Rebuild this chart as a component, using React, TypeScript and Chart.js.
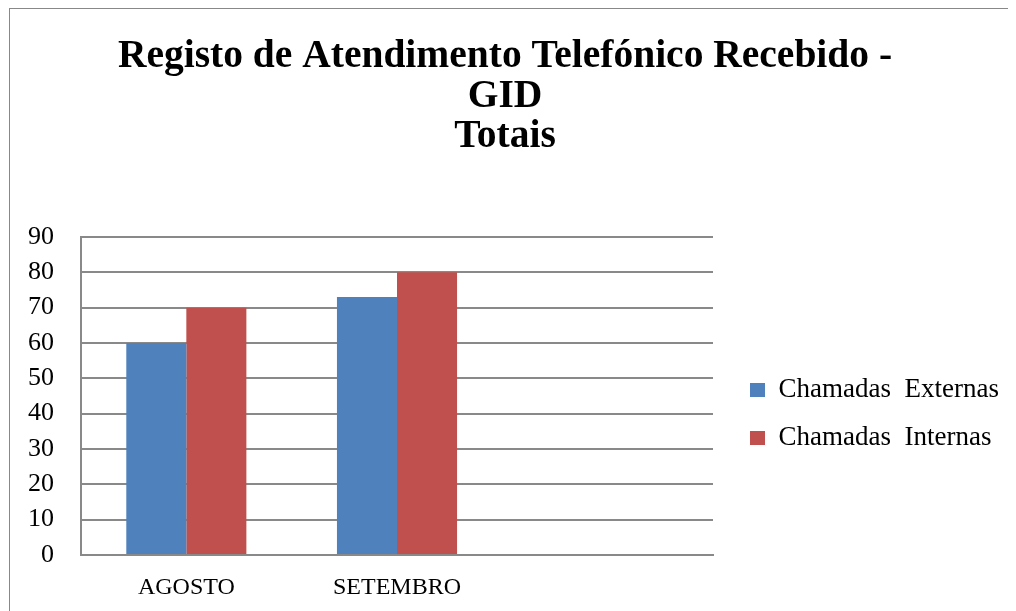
import React, { useEffect, useRef } from "react";
import { Chart, registerables } from "chart.js";

Chart.register(...registerables);

const categories = ["AGOSTO", "SETEMBRO", ""];
const externas = [60, 73, null];
const internas = [70, 80, null];
const seriesNames = ["Chamadas  Externas", "Chamadas  Internas"];
const titleLines = ["Registo de Atendimento Telefónico Recebido -", "GID", "Totais"];

const FONT = "'Liberation Serif', 'Times New Roman', serif";
const GRID = "#898989";
const CANVAS_W = 1006;
const CANVAS_H = 603;
const LEGEND_FONT = 27;
const LEGEND_PAD = 21;
const LEGEND_BOX = 15;
const LEGEND_LEFT = 719;

export default function App() {
  const ref = useRef<HTMLCanvasElement | null>(null);

  useEffect(() => {
    document.body.style.overflow = "hidden";
    if (!ref.current) return;
    const mctx = ref.current.getContext("2d")!;
    mctx.font = `${LEGEND_FONT}px ${FONT}`;
    const textW = Math.max(...seriesNames.map((n) => mctx.measureText(n).width));
    const legendW = Math.ceil(LEGEND_PAD + LEGEND_BOX + LEGEND_FONT / 2 + textW + 1);
    const padRight = Math.max(0, CANVAS_W - LEGEND_LEFT - legendW);

    const chart = new Chart(ref.current, {
      type: "bar",
      data: {
        labels: categories,
        datasets: [
          {
            label: seriesNames[0],
            data: externas,
            backgroundColor: "#4F81BD",
            borderWidth: 0,
            yAxisID: "y",
          },
          {
            label: seriesNames[1],
            data: internas,
            backgroundColor: "#C0504D",
            borderWidth: 0,
            yAxisID: "y",
          },
        ],
      },
      options: {
        responsive: false,
        animation: false,
        devicePixelRatio: 1,
        datasets: { bar: { barPercentage: 1, categoryPercentage: 0.57 } },
        layout: { padding: { top: 0, right: padRight, bottom: 0, left: 0 } },
        plugins: {
          tooltip: { enabled: false },
          title: {
            display: true,
            text: titleLines,
            color: "#000",
            font: { family: FONT, size: 39.5, weight: "bold", lineHeight: 40 / 39.5 },
            padding: { top: 28, bottom: 80 },
          },
          legend: {
            display: true,
            position: "right",
            fullSize: false,
            maxWidth: legendW,
            title: {
              display: true,
              text: " ",
              font: { size: 10, lineHeight: 1.2 },
              padding: 12,
            },
            labels: {
              color: "#000",
              font: { family: FONT, size: LEGEND_FONT },
              boxWidth: LEGEND_BOX,
              boxHeight: 14,
              padding: LEGEND_PAD,
            },
          },
        },
        scales: {
          x: {
            type: "category",
            offset: true,
            grid: { display: false },
            border: { display: true, color: GRID, width: 2 },
            ticks: { color: "#000", font: { family: FONT, size: 24 }, padding: 10, maxRotation: 0, autoSkip: false },
            afterFit: (s: any) => {
              s.height = 57;
            },
          },
          y: {
            type: "linear",
            position: "left",
            min: 0,
            max: 90,
            ticks: { stepSize: 10, color: "#000", font: { family: FONT, size: 26 }, padding: 27 },
            grid: { color: GRID, lineWidth: 2, drawTicks: false },
            border: { display: true, color: GRID, width: 2 },
            afterFit: (s: any) => {
              s.width = 71;
            },
          },
          sp: {
            type: "linear",
            position: "right",
            display: true,
            grid: { display: false },
            ticks: { display: false },
            border: { display: false },
            afterFit: (s: any) => {
              s.width = 16;
            },
          },
        },
      },
    } as any);
    return () => chart.destroy();
  }, []);

  return (
    <div
      style={{
        marginLeft: 1,
        width: 1030,
        minWidth: 1030,
        maxWidth: "none",
        height: 620,
        borderTop: "1px solid #888888",
        borderLeft: "1px solid #888888",
        boxSizing: "content-box",
      }}
    >
      <canvas
        ref={ref}
        width={CANVAS_W}
        height={CANVAS_H}
        style={{ display: "block", maxWidth: "none" }}
      />
    </div>
  );
}
